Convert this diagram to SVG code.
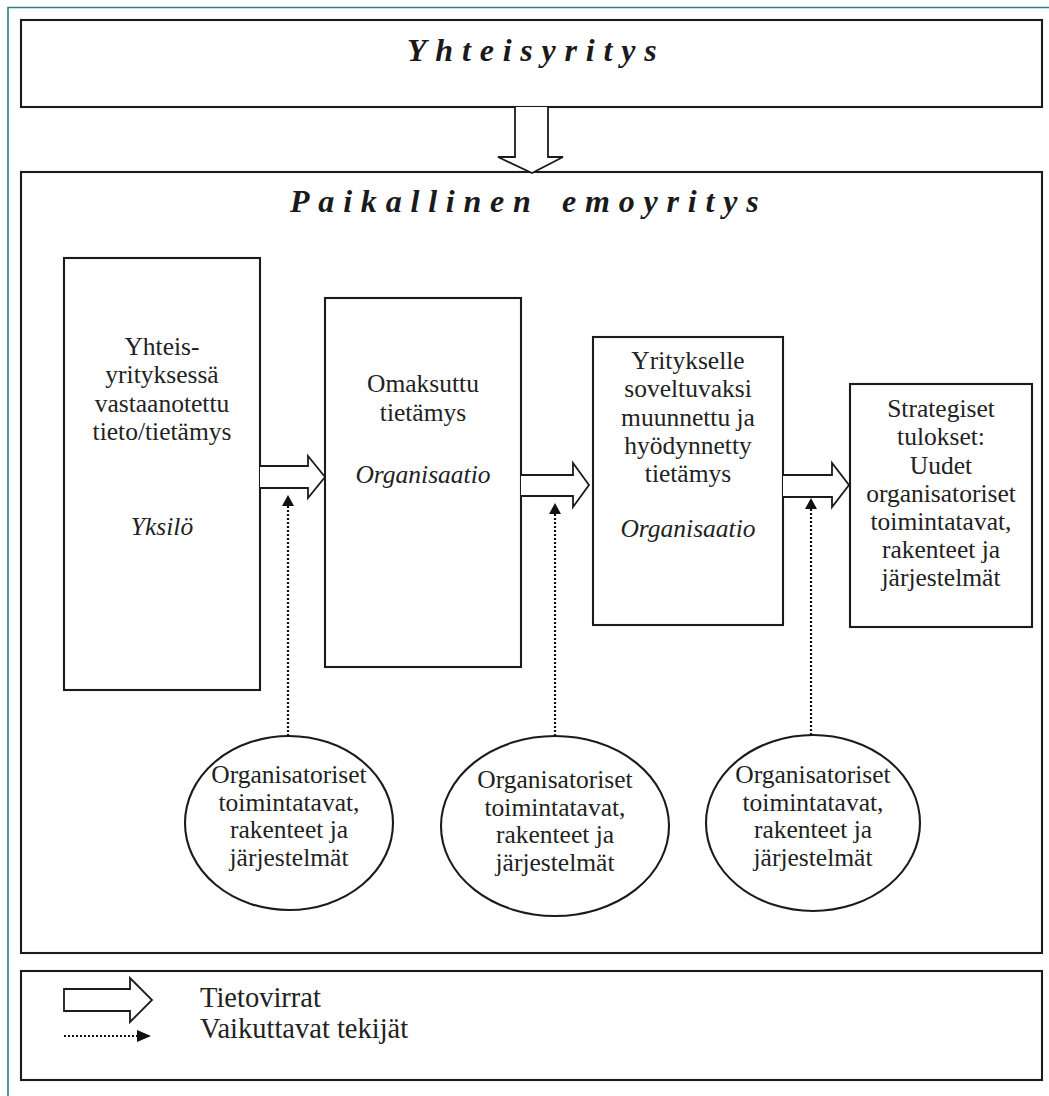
<svg xmlns="http://www.w3.org/2000/svg" width="1049" height="1096" viewBox="0 0 1049 1096">
<style>
.box{fill:#fff;stroke:#1b1b1b;stroke-width:2.1}
.blk{fill:#fff;stroke:#1b1b1b;stroke-width:1.8;stroke-linejoin:miter}
.dot{stroke:#111;stroke-width:2.2;stroke-dasharray:2 2;fill:none}
.head{fill:#111}
</style>
<rect width="1049" height="1096" fill="#fff"/>
<g id="page-border" fill="none" stroke="#2a7f80" stroke-width="1.6">
<path d="M8 1096 V7.5 H1049"/>
</g>
<g id="yhteisyritys">
<rect class="box" x="21" y="20" width="1021" height="87"/>
<text x="407" y="61" font-family="Liberation Serif" font-size="32" font-weight="bold" font-style="italic" letter-spacing="8.8" fill="#1a1a1a">Yhteisyritys</text>
</g>
<g id="paikallinen">
<rect class="box" x="21" y="172" width="1021" height="781"/>
<text x="290" y="212" font-family="Liberation Serif" font-size="32" font-weight="bold" font-style="italic" letter-spacing="8.8" fill="#1a1a1a">Paikallinen</text>
<text x="562" y="212" font-family="Liberation Serif" font-size="32" font-weight="bold" font-style="italic" letter-spacing="8.8" fill="#1a1a1a">emoyritys</text>
</g>
<g id="box1">
<rect class="box" x="64" y="258" width="196" height="432"/>
<text x="162" y="355" font-family="Liberation Serif" font-size="25.5" fill="#222" text-anchor="middle">Yhteis-</text>
<text x="162" y="383" font-family="Liberation Serif" font-size="25.5" fill="#222" text-anchor="middle">yrityksessä</text>
<text x="162" y="412" font-family="Liberation Serif" font-size="25.5" fill="#222" text-anchor="middle">vastaanotettu</text>
<text x="162" y="440" font-family="Liberation Serif" font-size="25.5" fill="#222" text-anchor="middle">tieto/tietämys</text>
<text x="162" y="535" font-family="Liberation Serif" font-size="25.5" font-style="italic" fill="#222" text-anchor="middle">Yksilö</text>
</g>
<g id="box2">
<rect class="box" x="325" y="298" width="196" height="369"/>
<text x="423" y="392" font-family="Liberation Serif" font-size="25.5" fill="#222" text-anchor="middle">Omaksuttu</text>
<text x="423" y="421" font-family="Liberation Serif" font-size="25.5" fill="#222" text-anchor="middle">tietämys</text>
<text x="423" y="483" font-family="Liberation Serif" font-size="25.5" font-style="italic" fill="#222" text-anchor="middle">Organisaatio</text>
</g>
<g id="box3">
<rect class="box" x="593" y="337" width="190" height="288"/>
<text x="688" y="369" font-family="Liberation Serif" font-size="25.5" fill="#222" text-anchor="middle">Yritykselle</text>
<text x="688" y="397" font-family="Liberation Serif" font-size="25.5" fill="#222" text-anchor="middle">soveltuvaksi</text>
<text x="688" y="426" font-family="Liberation Serif" font-size="25.5" fill="#222" text-anchor="middle">muunnettu ja</text>
<text x="688" y="454" font-family="Liberation Serif" font-size="25.5" fill="#222" text-anchor="middle">hyödynnetty</text>
<text x="688" y="482" font-family="Liberation Serif" font-size="25.5" fill="#222" text-anchor="middle">tietämys</text>
<text x="688" y="537" font-family="Liberation Serif" font-size="25.5" font-style="italic" fill="#222" text-anchor="middle">Organisaatio</text>
</g>
<g id="box4">
<rect class="box" x="850" y="384" width="182" height="243"/>
<text x="941" y="417" font-family="Liberation Serif" font-size="25.5" fill="#222" text-anchor="middle">Strategiset</text>
<text x="941" y="445" font-family="Liberation Serif" font-size="25.5" fill="#222" text-anchor="middle">tulokset:</text>
<text x="941" y="474" font-family="Liberation Serif" font-size="25.5" fill="#222" text-anchor="middle">Uudet</text>
<text x="941" y="502" font-family="Liberation Serif" font-size="25.5" fill="#222" text-anchor="middle">organisatoriset</text>
<text x="941" y="530" font-family="Liberation Serif" font-size="25.5" fill="#222" text-anchor="middle">toimintatavat,</text>
<text x="941" y="558" font-family="Liberation Serif" font-size="25.5" fill="#222" text-anchor="middle">rakenteet ja</text>
<text x="941" y="586" font-family="Liberation Serif" font-size="25.5" fill="#222" text-anchor="middle">järjestelmät</text>
</g>
<g id="ellipse1">
<ellipse class="box" cx="289" cy="823" rx="104" ry="87"/>
<text x="289" y="783" font-family="Liberation Serif" font-size="25.5" fill="#222" text-anchor="middle">Organisatoriset</text>
<text x="289" y="811" font-family="Liberation Serif" font-size="25.5" fill="#222" text-anchor="middle">toimintatavat,</text>
<text x="289" y="838" font-family="Liberation Serif" font-size="25.5" fill="#222" text-anchor="middle">rakenteet ja</text>
<text x="289" y="866" font-family="Liberation Serif" font-size="25.5" fill="#222" text-anchor="middle">järjestelmät</text>
</g>
<g id="ellipse2">
<ellipse class="box" cx="555" cy="826" rx="114" ry="90"/>
<text x="555" y="788" font-family="Liberation Serif" font-size="25.5" fill="#222" text-anchor="middle">Organisatoriset</text>
<text x="555" y="816" font-family="Liberation Serif" font-size="25.5" fill="#222" text-anchor="middle">toimintatavat,</text>
<text x="555" y="843" font-family="Liberation Serif" font-size="25.5" fill="#222" text-anchor="middle">rakenteet ja</text>
<text x="555" y="871" font-family="Liberation Serif" font-size="25.5" fill="#222" text-anchor="middle">järjestelmät</text>
</g>
<g id="ellipse3">
<ellipse class="box" cx="813" cy="823" rx="107" ry="88"/>
<text x="813" y="783" font-family="Liberation Serif" font-size="25.5" fill="#222" text-anchor="middle">Organisatoriset</text>
<text x="813" y="811" font-family="Liberation Serif" font-size="25.5" fill="#222" text-anchor="middle">toimintatavat,</text>
<text x="813" y="838" font-family="Liberation Serif" font-size="25.5" fill="#222" text-anchor="middle">rakenteet ja</text>
<text x="813" y="866" font-family="Liberation Serif" font-size="25.5" fill="#222" text-anchor="middle">järjestelmät</text>
</g>
<g id="connectors">
<path class="blk" d="M515 107 V157 H498 L532 173 L563 157 H548 V107"/>
<path class="blk" d="M260 466 H308 V456 L325 477 L308 498 V488 H260"/>
<path class="blk" d="M521 475 H573 V463 L589 485 L573 507 V496 H521"/>
<path class="blk" d="M783 475 H832 V463 L849 485 L832 507 V497 H783"/>
<line class="dot" x1="288" y1="506" x2="288" y2="736"/>
<polygon class="head" points="288,495 282,506 294,506"/>
<line class="dot" x1="555" y1="514" x2="555" y2="736"/>
<polygon class="head" points="555,503 549,514 561,514"/>
<line class="dot" x1="811" y1="509" x2="811" y2="735"/>
<polygon class="head" points="811,498 805,509 817,509"/>
</g>
<g id="legend">
<rect class="box" x="21" y="971" width="1021" height="109"/>
<path class="blk" d="M64 989 H130 V978 L152 1000 L130 1022 V1011 H64 Z"/>
<line class="dot" x1="64" y1="1036" x2="137" y2="1036"/>
<polygon class="head" points="151,1036 137,1030 137,1042"/>
<text x="200" y="1007" font-family="Liberation Serif" font-size="28.5" fill="#222">Tietovirrat</text>
<text x="200" y="1038" font-family="Liberation Serif" font-size="28.5" fill="#222">Vaikuttavat tekijät</text>
</g>
</svg>
